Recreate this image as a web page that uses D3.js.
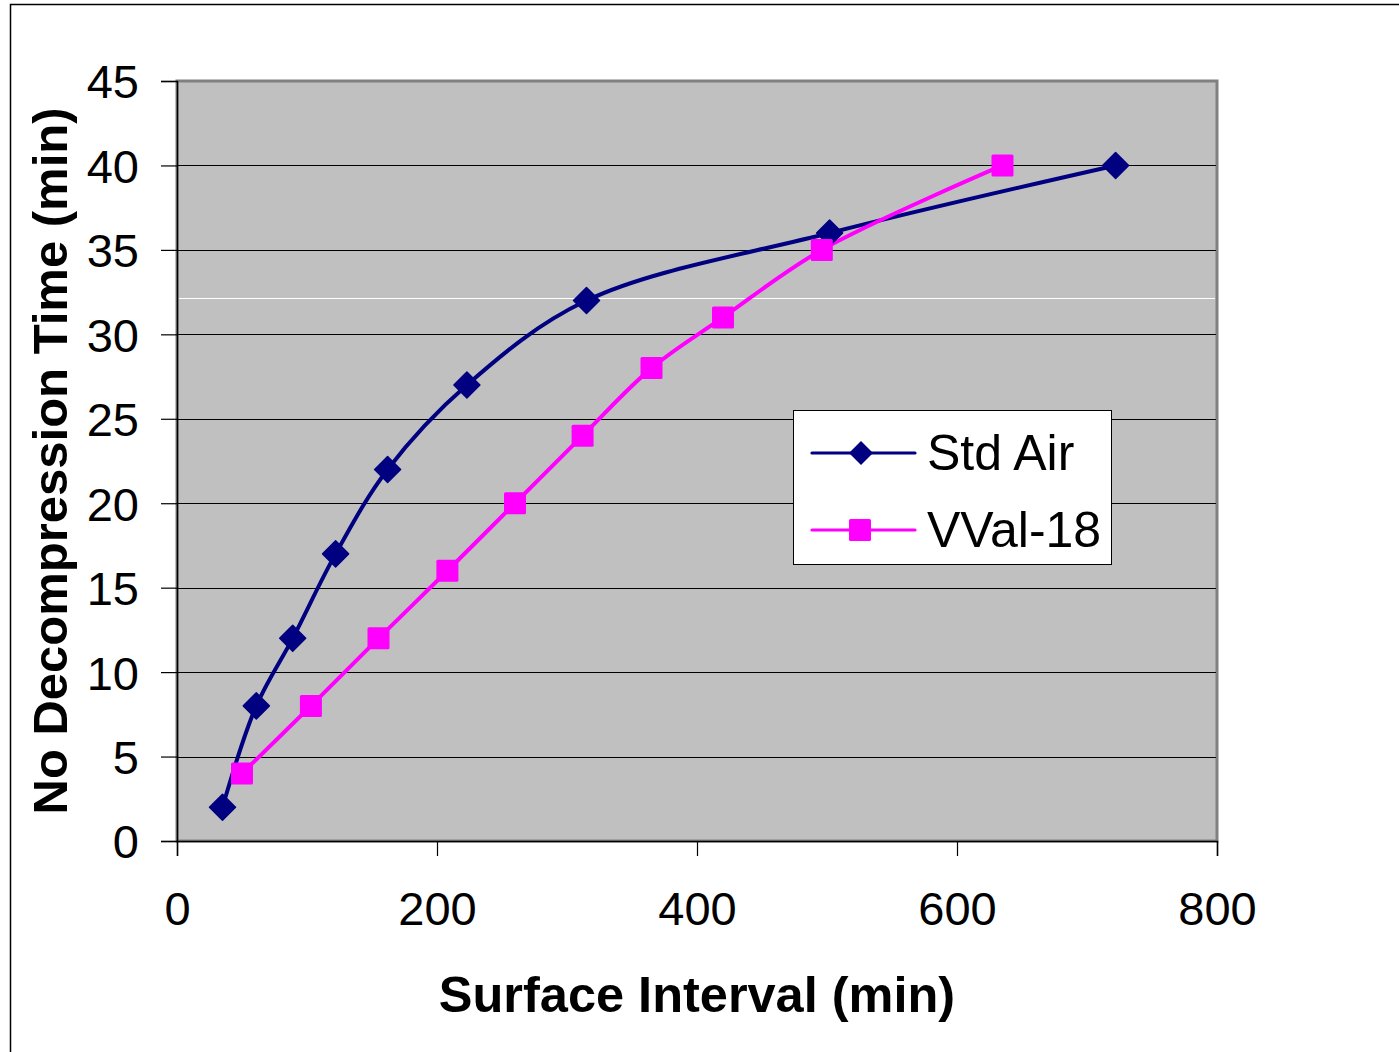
<!DOCTYPE html>
<html><head><meta charset="utf-8">
<script src="https://cdn.jsdelivr.net/npm/d3@7"></script>
<style>body{margin:0;background:#fff}svg{display:block}text{font-family:"Liberation Sans",Arial,sans-serif}</style>
</head><body>
<svg id="c" width="1399" height="1052"></svg>
<script>
const stdAirX = [35, 61, 89, 122, 162, 223, 315, 502, 722];
const stdAirY = [2, 8, 12, 17, 22, 27, 32, 36, 40];
const vvalX = [50, 103, 155, 208, 260, 312, 365, 420, 496, 635];
const vvalY = [4, 8, 12, 16, 20, 24, 28, 31, 35, 40];
const xTicks = [0, 200, 400, 600, 800];
const yTicks = [0, 5, 10, 15, 20, 25, 30, 35, 40, 45];
const seriesNames = ["Std Air", "VVal-18"];

const svg = d3.select("#c");
const L = 177, R = 1217, T = 81, B = 841;
const x = d3.scaleLinear().domain([0, 800]).range([L, R]);
const y = d3.scaleLinear().domain([0, 45]).range([B, T]);

// outer frame
svg.append("path").attr("d", "M10.5,1052 V4.5 H1399").attr("fill", "none").attr("stroke", "#000").attr("stroke-width", 1.5);

// plot area
svg.append("rect").attr("x", L).attr("y", T).attr("width", R - L).attr("height", B - T)
  .attr("fill", "#c0c0c0").attr("stroke", "#808080").attr("stroke-width", 3);

// gridlines
svg.append("g").selectAll("line").data(yTicks.filter(d => d > 0 && d < 45)).join("line")
  .attr("x1", L).attr("x2", R - 1).attr("y1", d => Math.round(y(d)) + 0.5).attr("y2", d => Math.round(y(d)) + 0.5)
  .attr("stroke", "#000").attr("stroke-width", 1.2);
// artifact white line
svg.append("line").attr("x1", L + 2).attr("x2", R - 2).attr("y1", Math.round(y(32.15)) + 0.5).attr("y2", Math.round(y(32.15)) + 0.5)
  .attr("stroke", "#fff").attr("stroke-width", 1);

// axes
const yAxis = d3.axisLeft(y).tickValues(yTicks).tickSize(16).tickPadding(22).tickFormat(d3.format("d"));
const gy = svg.append("g").attr("transform", `translate(${L},0)`).call(yAxis);
const xAxis = d3.axisBottom(x).tickValues(xTicks).tickSize(15).tickPadding(36).tickFormat(d3.format("d"));
const gx = svg.append("g").attr("transform", `translate(0,${B})`).call(xAxis);
[gx, gy].forEach(g => {
  g.select(".domain").attr("stroke", "#000").attr("stroke-width", 1.5);
  g.selectAll(".tick line").attr("stroke", "#000").attr("stroke-width", 1.2);
  g.selectAll(".tick text").attr("font-size", 47).attr("fill", "#000").attr("font-family", '"Liberation Sans",Arial,sans-serif');
});
gy.selectAll(".tick text").attr("dy", "0.36em");
gx.selectAll(".tick text").attr("dy", "0.71em");

// titles
svg.append("text").attr("x", (L + R) / 2).attr("y", 1012).attr("text-anchor", "middle")
  .attr("font-size", 50.5).attr("font-weight", "bold").text("Surface Interval (min)");
svg.append("text").attr("transform", `translate(67,${(T + B) / 2}) rotate(-90)`).attr("text-anchor", "middle")
  .attr("font-size", 49).attr("font-weight", "bold").text("No Decompression Time (min)");

// lines
const line = d3.line().x(d => x(d[0])).y(d => y(d[1])).curve(d3.curveCatmullRom.alpha(0.5));
const stdData = stdAirX.map((v, i) => [v, stdAirY[i]]);
const vvData = vvalX.map((v, i) => [v, vvalY[i]]);
const navy = "#000080", mag = "#ff00ff";

svg.append("path").datum(stdData).attr("d", line).attr("fill", "none").attr("stroke", navy).attr("stroke-width", 4).attr("stroke-linejoin", "round");
svg.append("path").datum(vvData).attr("d", line).attr("fill", "none").attr("stroke", mag).attr("stroke-width", 4).attr("stroke-linejoin", "round");

const dia = 13, sq = 11;
svg.append("g").selectAll("path").data(stdData).join("path")
  .attr("d", d => `M${x(d[0])},${y(d[1]) - dia} L${x(d[0]) + dia},${y(d[1])} L${x(d[0])},${y(d[1]) + dia} L${x(d[0]) - dia},${y(d[1])} Z`)
  .attr("fill", navy).attr("stroke", navy).attr("stroke-width", 1.5).attr("stroke-linejoin", "round");
svg.append("g").selectAll("rect").data(vvData).join("rect")
  .attr("x", d => x(d[0]) - sq).attr("y", d => y(d[1]) - sq).attr("width", 2 * sq).attr("height", 2 * sq)
  .attr("rx", 1.5).attr("fill", mag);

// legend
const lg = svg.append("g");
lg.append("rect").attr("x", 793.5).attr("y", 410.5).attr("width", 318).attr("height", 154)
  .attr("fill", "#fff").attr("stroke", "#000").attr("stroke-width", 1);
const ly = [453, 530];
lg.append("line").attr("x1", 812).attr("x2", 915).attr("y1", ly[0]).attr("y2", ly[0]).attr("stroke", navy).attr("stroke-width", 3.2).attr("stroke-linecap", "round");
lg.append("path").attr("d", `M861,${ly[0] - 12} L873,${ly[0]} L861,${ly[0] + 12} L849,${ly[0]} Z`).attr("fill", navy);
lg.append("line").attr("x1", 812).attr("x2", 915).attr("y1", ly[1]).attr("y2", ly[1]).attr("stroke", mag).attr("stroke-width", 3.2).attr("stroke-linecap", "round");
lg.append("rect").attr("x", 849).attr("y", ly[1] - 11).attr("width", 22).attr("height", 22).attr("rx", 1.5).attr("fill", mag);
lg.selectAll("text.lab").data(seriesNames).join("text").attr("class", "lab")
  .attr("x", 927).attr("y", (d, i) => ly[i] + 17).attr("font-size", 50).attr("fill", "#000").text(d => d);
</script>
</body></html>
